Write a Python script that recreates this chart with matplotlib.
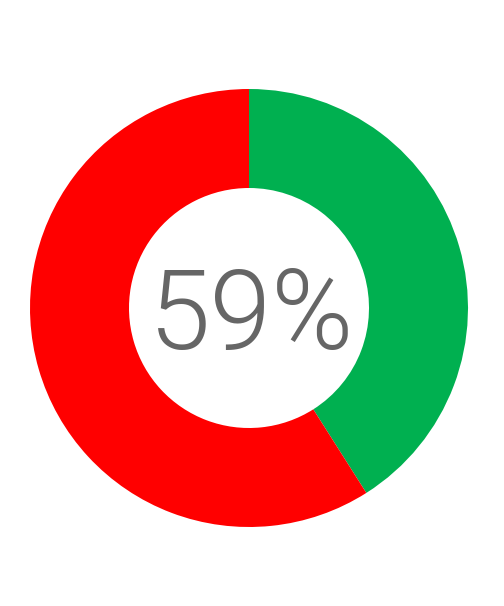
import matplotlib
matplotlib.use("Agg")
import matplotlib.pyplot as plt

labels = ["Green", "Red"]
values = [41, 59]
colors = ["#00B050", "#FF0000"]
center_text = "59%"

fig = plt.figure(figsize=(5.04, 6.06), dpi=100)
ax = fig.add_axes([30/504, 79/606, 438/504, 438/606])
ax.pie(values, colors=colors, startangle=90, counterclock=False, radius=1,
       wedgeprops=dict(width=1 - 120/219, linewidth=0))
ax.set_xlim(-1, 1)
ax.set_ylim(-1, 1)
ax.set_aspect("equal")
ax.axis("off")
ax.text(0.01, -0.05, center_text, ha="center", va="center", fontsize=80,
        color="#666666", family="Roboto", fontweight=300)
fig.savefig("out.png", dpi=100)
